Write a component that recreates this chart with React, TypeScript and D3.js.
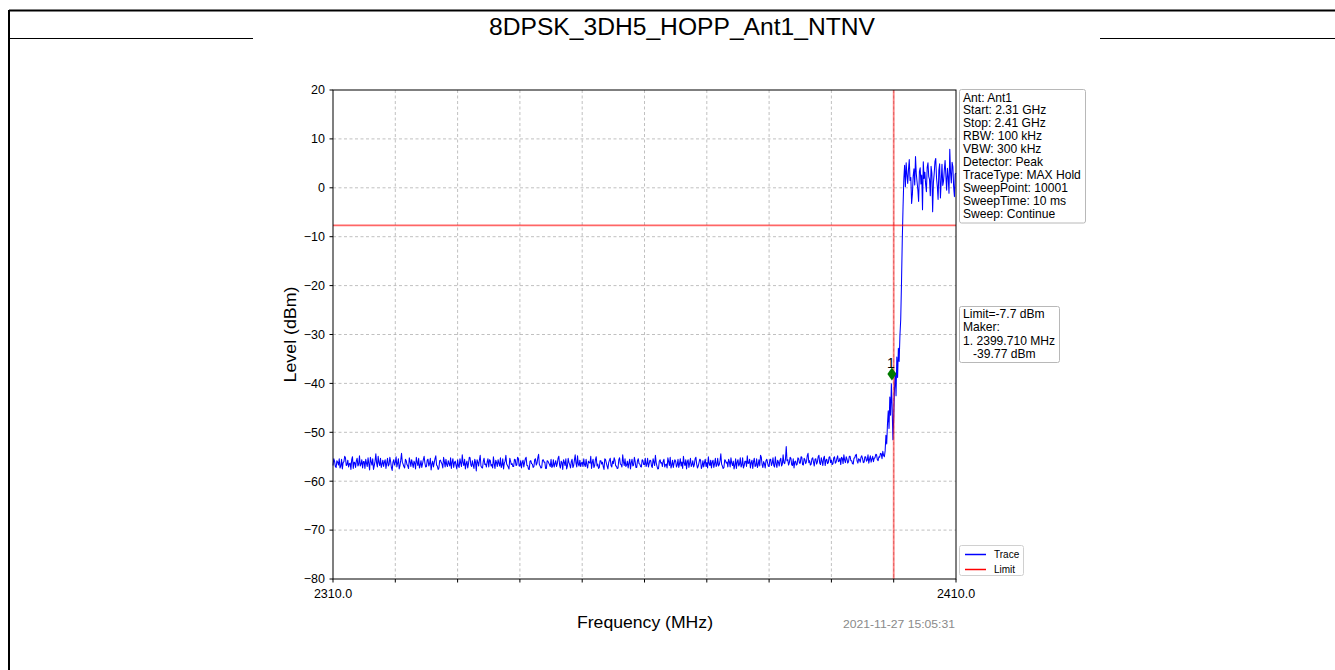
import React from "react";
import * as d3 from "d3";

// ---------- data ----------
const TITLE = "8DPSK_3DH5_HOPP_Ant1_NTNV";
const START_MHZ = 2310;
const STOP_MHZ = 2410;
const STEP_MHZ = 0.125;
const Y_TICKS = [20, 10, 0, -10, -20, -30, -40, -50, -60, -70, -80];
const X_TICKS = [2310, 2320, 2330, 2340, 2350, 2360, 2370, 2380, 2390, 2400, 2410];
const X_TICK_LABELS = ["2310.0", "", "", "", "", "", "", "", "", "", "2410.0"];
const LIMIT_DBM = -7.7;
const EDGE_MHZ = 2400;
const MARKER_FREQ = 2399.71;
const MARKER_PLOT_LEVEL = -38.1;
const INFO_LINES = [
  "Ant: Ant1",
  "Start: 2.31 GHz",
  "Stop: 2.41 GHz",
  "RBW: 100 kHz",
  "VBW: 300 kHz",
  "Detector: Peak",
  "TraceType: MAX Hold",
  "SweepPoint: 10001",
  "SweepTime: 10 ms",
  "Sweep: Continue",
];
const MARKER_LINES = ["Limit=-7.7 dBm", "Maker:", "1. 2399.710 MHz", "   -39.77 dBm"];
const TIMESTAMP = "2021-11-27 15:05:31";

// trace levels (dBm), one every 0.125 MHz from 2310 to 2410 (40 per row = 5 MHz)
const TRACE = [
  -56.8,-55.4,-55.9,-57.0,-57.2,-55.8,-56.1,-56.7,-55.4,-57.3,-56.9,-55.5,-57.5,-56.2,-56.0,-54.9,-55.2,-56.8,-56.6,-55.7,-57.1,-56.4,-56.3,-57.6,-55.6,-55.0,-57.4,-56.1,-56.2,-57.2,-55.8,-55.3,-56.9,-56.5,-54.8,-56.9,-56.5,-55.6,-57.3,-56.0,
  -56.0,-57.4,-55.5,-56.3,-57.0,-55.2,-56.4,-57.7,-55.1,-56.0,-56.7,-55.4,-57.6,-56.8,-55.9,-54.4,-56.3,-57.1,-54.9,-56.2,-56.8,-55.3,-57.2,-56.5,-55.7,-57.0,-56.1,-55.6,-57.4,-56.3,-55.3,-56.9,-56.6,-55.1,-56.0,-57.2,-57.8,-56.1,-55.6,-56.7,
  -56.2,-55.0,-57.1,-56.3,-55.4,-57.5,-56.8,-55.7,-54.3,-56.1,-56.5,-57.0,-57.3,-55.5,-55.8,-56.6,-56.9,-57.4,-55.2,-56.0,-57.0,-55.6,-56.4,-57.2,-55.9,-56.3,-57.5,-55.1,-56.1,-56.8,-55.3,-57.3,-56.7,-55.8,-57.2,-56.4,-55.6,-54.9,-56.3,-57.1,
  -57.0,-55.7,-55.5,-56.9,-56.4,-55.3,-57.7,-56.5,-55.9,-57.1,-56.2,-55.4,-54.8,-56.7,-56.9,-57.6,-57.3,-55.8,-55.7,-56.2,-56.5,-57.3,-55.1,-56.0,-57.1,-55.5,-56.6,-57.0,-55.8,-56.4,-56.9,-55.2,-57.4,-56.1,-55.4,-57.2,-56.2,-55.9,-56.8,-57.5,
  -55.6,-56.8,-57.2,-55.4,-56.3,-57.0,-54.6,-56.2,-56.8,-55.5,-57.5,-56.4,-55.9,-57.3,-56.4,-55.1,-55.2,-56.7,-57.0,-55.8,-56.7,-57.4,-55.5,-56.1,-57.9,-55.6,-56.1,-56.9,-55.7,-54.7,-56.9,-57.2,-57.3,-55.9,-55.3,-56.6,-56.5,-57.1,-56.0,-55.4,
  -57.1,-55.6,-55.8,-56.9,-56.6,-57.3,-55.0,-56.4,-57.4,-55.7,-56.2,-57.0,-55.6,-56.3,-56.9,-55.2,-57.2,-56.7,-55.4,-57.5,-56.3,-55.9,-54.7,-56.5,-56.8,-57.1,-57.5,-55.3,-55.9,-56.6,-56.4,-57.0,-57.0,-55.5,-55.6,-56.8,-56.7,-55.1,-55.3,-56.9,
  -56.9,-55.8,-57.3,-56.2,-55.7,-57.1,-56.2,-55.4,-55.1,-56.8,-56.8,-57.5,-57.6,-55.9,-55.8,-56.4,-56.5,-57.2,-57.0,-55.6,-55.4,-56.7,-56.3,-55.2,-54.5,-56.6,-56.9,-57.3,-57.2,-55.7,-55.6,-56.1,-56.1,-57.4,-57.4,-55.8,-55.9,-56.3,-56.6,-57.0,
  -55.5,-57.2,-56.9,-55.6,-57.1,-56.4,-55.8,-57.0,-56.4,-55.3,-54.9,-56.7,-57.3,-55.9,-56.2,-57.6,-55.6,-56.1,-56.8,-55.4,-57.5,-56.9,-55.3,-56.2,-56.6,-57.3,-56.0,-55.5,-57.2,-56.8,-55.7,-54.6,-56.3,-57.1,-54.8,-56.5,-56.9,-55.7,-57.0,-56.3,
  -56.1,-57.0,-55.4,-56.6,-57.0,-55.5,-56.7,-57.3,-55.9,-56.2,-56.3,-54.9,-57.4,-56.1,-55.5,-57.2,-56.8,-55.6,-55.0,-56.9,-56.5,-57.4,-57.2,-55.8,-55.8,-56.5,-56.1,-57.0,-57.6,-55.4,-55.6,-56.3,-56.9,-57.5,-56.2,-55.7,-55.3,-56.8,-57.1,-55.9,
  -56.4,-55.2,-55.7,-56.9,-56.9,-57.4,-57.3,-55.6,-55.2,-56.5,-56.6,-57.1,-54.6,-56.0,-56.8,-55.4,-57.0,-56.7,-55.9,-57.3,-56.3,-55.5,-57.5,-56.2,-55.5,-56.9,-56.7,-55.1,-56.0,-57.2,-57.2,-55.8,-55.4,-56.4,-56.5,-57.0,-57.1,-55.6,-55.8,-56.6,
  -56.6,-55.3,-57.0,-56.5,-55.3,-57.1,-56.4,-55.7,-55.8,-56.9,-57.2,-55.4,-56.1,-56.8,-54.7,-56.2,-56.9,-57.5,-57.4,-55.9,-55.6,-56.3,-56.2,-57.0,-55.9,-55.5,-57.1,-56.6,-56.5,-57.3,-55.2,-56.0,-56.8,-55.1,-57.3,-56.7,-55.7,-57.2,-56.3,-55.6,
  -55.9,-57.1,-56.7,-55.5,-57.2,-56.4,-55.4,-56.9,-56.1,-57.4,-54.9,-56.3,-56.8,-55.6,-57.5,-56.0,-55.6,-57.2,-56.3,-55.3,-57.0,-56.6,-55.8,-57.1,-56.6,-55.4,-55.1,-56.5,-57.3,-56.9,-56.2,-55.5,-55.7,-57.4,-56.9,-55.8,-57.1,-56.2,-55.5,-57.0,
  -56.2,-57.3,-55.0,-56.4,-56.8,-55.7,-57.3,-56.1,-55.7,-57.2,-56.4,-55.3,-57.0,-56.6,-55.3,-56.9,-56.6,-55.8,-54.4,-56.5,-56.9,-57.4,-57.2,-55.6,-55.8,-56.3,-56.1,-57.1,-55.5,-56.0,-57.1,-55.2,-56.3,-56.8,-55.9,-57.5,-56.7,-55.4,-57.4,-56.1,
  -55.6,-56.9,-56.5,-55.2,-57.1,-56.7,-55.2,-57.3,-56.8,-55.9,-55.9,-57.0,-54.8,-56.4,-56.3,-55.5,-57.3,-56.2,-55.7,-57.4,-56.0,-55.3,-57.0,-56.8,-55.4,-57.2,-56.6,-55.6,-56.9,-54.7,-55.1,-56.6,-57.2,-56.0,-56.4,-57.3,-55.8,-55.5,-56.2,-56.9,
  -57.0,-55.6,-55.5,-56.8,-56.3,-55.2,-56.8,-57.1,-55.0,-56.4,-57.2,-55.7,-56.1,-56.9,-55.7,-55.3,-56.9,-56.5,-54.6,-56.2,-56.4,-55.5,-52.9,-55.8,-55.6,-56.7,-56.2,-55.1,-55.3,-56.6,-56.8,-55.4,-57.3,-56.0,-55.9,-56.7,-56.5,-55.2,-55.4,-56.3,
  -56.3,-55.0,-55.1,-56.6,-56.7,-55.3,-55.6,-56.4,-56.0,-54.8,-54.3,-56.2,-55.8,-56.7,-56.5,-55.4,-55.2,-56.1,-56.9,-55.5,-55.4,-56.5,-56.1,-55.0,-54.7,-56.3,-56.6,-55.2,-55.9,-56.8,-55.3,-54.9,-56.8,-55.7,-55.5,-56.4,-56.2,-55.1,-55.0,-56.2,
  -55.7,-56.6,-56.4,-55.2,-55.0,-56.3,-56.1,-55.4,-54.8,-56.0,-55.9,-55.3,-56.6,-55.1,-55.3,-56.4,-54.6,-55.7,-56.2,-55.0,-55.5,-56.3,-56.0,-54.9,-54.9,-55.8,-55.8,-56.4,-56.5,-55.3,-55.2,-54.7,-54.5,-55.9,-56.3,-55.4,-55.6,-56.1,-55.1,-54.8,
  -55.4,-56.2,-56.1,-55.0,-55.0,-55.9,-55.7,-54.6,-56.3,-55.5,-54.8,-56.1,-55.5,-54.9,-56.0,-55.3,-55.2,-54.5,-54.6,-55.6,-55.8,-55.0,-55.1,-54.3,-54.4,-55.4,-53.9,-54.7,-55.0,-53.8,-50.6,-52.4,-48.3,-45.6,-49.2,-42.8,-46.5,-40.1,-44.9,-51.5,
  -47.0,-41.2,-37.9,-42.5,-34.6,-38.8,-32.8,-35.5,-30.2,-27.0,-19.5,-10.8,-3.9,1.8,4.6,0.2,5.1,2.7,0.9,3.8,5.8,1.5,2.1,-3.2,-1.3,2.4,3.9,0.6,6.4,2.9,1.2,-0.4,-2.8,3.3,4.1,0.8,2.6,-4.5,5.3,1.9,
  3.2,0.7,-0.8,4.2,5.1,2.3,1.7,-1.6,4.4,3.0,-4.9,1.1,2.9,5.4,6.0,2.0,0.3,-2.4,3.6,4.9,-2.1,1.3,4.8,0.5,1.4,3.7,5.6,2.4,-0.5,4.0,2.2,-1.1,7.9,3.1,1.0,5.2,4.3,0.1,-1.8,2.8,
  3.0,
];

// ---------- layout ----------
const W = 1335;
const H = 670;
const PL = 333, PR = 956, PT = 90, PB = 579;
const FONT = "'Liberation Sans', Arial, sans-serif";

export default function App() {
  const x = d3.scaleLinear().domain([START_MHZ, STOP_MHZ]).range([PL, PR]);
  const y = d3.scaleLinear().domain([-80, 20]).range([PB, PT]);

  const pts: [number, number][] = TRACE.map((v, i) => [START_MHZ + i * STEP_MHZ, v]);
  const line = d3
    .line<[number, number]>()
    .x((d) => x(d[0]))
    .y((d) => y(d[1]));

  const mx = x(MARKER_FREQ);
  const my = y(MARKER_PLOT_LEVEL);
  const infoLH = 12.95;
  const markLH = 13.5;

  return (
    <svg
      width={W}
      height={H}
      style={{ position: "absolute", left: 0, top: 0, display: "block", background: "#fff" }}
      fontFamily={FONT}
    >
      {/* outer table frame */}
      <line x1={9} y1={10.5} x2={W} y2={10.5} stroke="#000" strokeWidth={2} />
      <line x1={9} y1={10} x2={9} y2={H} stroke="#000" strokeWidth={2} />
      <line x1={9} y1={38.5} x2={253} y2={38.5} stroke="#000" strokeWidth={1.2} />
      <line x1={1100} y1={38.5} x2={W} y2={38.5} stroke="#000" strokeWidth={1.2} />
      <text x={682} y={35} textAnchor="middle" fontSize={23} fill="#000" textLength={386} lengthAdjust="spacingAndGlyphs">
        {TITLE}
      </text>

      {/* grid */}
      {Y_TICKS.filter((t) => t !== 20 && t !== -80).map((t) => (
        <line key={"gy" + t} x1={PL} x2={PR} y1={y(t)} y2={y(t)} stroke="#b0b0b0" strokeWidth={0.8} strokeDasharray="3,2.5" />
      ))}
      {X_TICKS.filter((t) => t !== START_MHZ && t !== STOP_MHZ).map((t) => (
        <line key={"gx" + t} x1={x(t)} x2={x(t)} y1={PT} y2={PB} stroke="#b0b0b0" strokeWidth={0.8} strokeDasharray="3,2.5" />
      ))}

      {/* trace */}
      <path d={line(pts) || ""} fill="none" stroke="#0000ff" strokeWidth={1.05} strokeLinejoin="round" />

      {/* limit lines */}
      <line x1={PL} x2={PR} y1={y(LIMIT_DBM)} y2={y(LIMIT_DBM)} stroke="#ff0000" strokeOpacity={0.6} strokeWidth={1.8} />
      <line x1={x(EDGE_MHZ)} x2={x(EDGE_MHZ)} y1={PT} y2={PB} stroke="#ff0000" strokeOpacity={0.5} strokeWidth={1.8} />

      {/* marker */}
      <path
        d={`M${mx},${my - 6.5} L${mx + 4.5},${my} L${mx},${my + 6.5} L${mx - 4.5},${my} Z`}
        fill="#007a00"
      />
      <text x={mx - 1} y={my - 6.5} textAnchor="middle" fontSize={14} fill="#000">
        1
      </text>

      {/* axes frame */}
      <rect x={PL} y={PT} width={PR - PL} height={PB - PT} fill="none" stroke="#000" strokeWidth={1} />

      {/* y ticks */}
      {Y_TICKS.map((t) => (
        <g key={"yt" + t}>
          <line x1={PL - 3.5} x2={PL} y1={y(t)} y2={y(t)} stroke="#000" strokeWidth={1} />
          <text x={PL - 8} y={y(t)} dy="0.35em" textAnchor="end" fontSize={12.5} fill="#000">
            {t < 0 ? "\u2212" + Math.abs(t) : String(t)}
          </text>
        </g>
      ))}
      {/* x ticks */}
      {X_TICKS.map((t, i) => (
        <g key={"xt" + t}>
          <line x1={x(t)} x2={x(t)} y1={PB} y2={PB + 3.5} stroke="#000" strokeWidth={1} />
          {X_TICK_LABELS[i] && (
            <text x={x(t)} y={PB + 19} textAnchor="middle" fontSize={12.5} fill="#000">
              {X_TICK_LABELS[i]}
            </text>
          )}
        </g>
      ))}

      {/* axis titles */}
      <text x={645} y={628} textAnchor="middle" fontSize={16} fill="#000" textLength={136} lengthAdjust="spacingAndGlyphs">
        Frequency (MHz)
      </text>
      <text
        transform={`translate(296,${(PT + PB) / 2}) rotate(-90)`}
        textAnchor="middle"
        fontSize={16}
        fill="#000"
        textLength={96}
        lengthAdjust="spacingAndGlyphs"
      >
        Level (dBm)
      </text>
      <text x={955} y={627.5} textAnchor="end" fontSize={11.6} fill="#8a8a8a" textLength={112} lengthAdjust="spacingAndGlyphs">
        {TIMESTAMP}
      </text>

      {/* info box */}
      <rect x={959.5} y={89.5} width={126} height={133.5} rx={2} fill="#fff" stroke="#b8b8b8" strokeWidth={1} />
      {INFO_LINES.map((s, i) => (
        <text key={"il" + i} x={963} y={101.5 + i * infoLH} fontSize={12.1} fill="#000">
          {s}
        </text>
      ))}

      {/* marker box */}
      <rect x={959.5} y={306.5} width={100} height={56} rx={2} fill="#fff" stroke="#b8b8b8" strokeWidth={1} />
      {MARKER_LINES.map((s, i) => (
        <text key={"ml" + i} x={963} y={317.5 + i * markLH} fontSize={12.1} fill="#000" style={{ whiteSpace: "pre" }}>
          {s}
        </text>
      ))}

      {/* legend */}
      <rect x={959.5} y={545.5} width={64} height={30} rx={2} fill="#fff" stroke="#d0d0d0" strokeWidth={1} />
      <line x1={965} x2={986} y1={554.5} y2={554.5} stroke="#0000ff" strokeWidth={1.5} />
      <text x={994} y={558.3} fontSize={10} fill="#000">Trace</text>
      <line x1={965} x2={986} y1={569.5} y2={569.5} stroke="#ff0000" strokeWidth={1.5} />
      <text x={994} y={573.3} fontSize={10} fill="#000">Limit</text>
    </svg>
  );
}
